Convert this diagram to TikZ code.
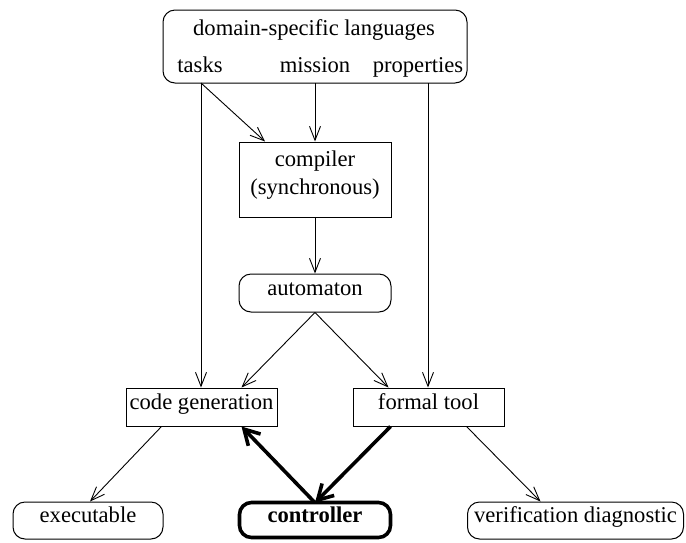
\documentclass[tikz,border=0pt]{standalone}
\usepackage{fontspec}
\setmainfont{Liberation Serif}
\usetikzlibrary{arrows.meta}
\tikzset{
  txt/.style={inner sep=0pt, text height=0.7em, text depth=0.22em},
  boxn/.style={draw, line width=1pt, inner sep=0pt},
  rbox/.style={boxn, rounded corners=12pt},
  edge/.style={line width=0.9pt, -{Straight Barb[length=14pt,width=11pt,line width=0.9pt]}},
  bedge/.style={line width=3.6pt, -{Straight Barb[length=15pt,width=17pt,line width=3.6pt]}},
}
\begin{document}
\begin{tikzpicture}[x=1pt,y=-1pt,font=\fontsize{22.6}{27}\selectfont]
\useasboundingbox (0,0) rectangle (686,542);
% top box
\node[rbox, minimum width=304pt, minimum height=73pt] (dsl) at (315,46.5) {};
\node[txt] (head) at (314,33) {domain-specific languages};
\node[txt] (tasks) at (200,70) {tasks};
\node[txt] (mission) at (315,70) {mission};
\node[txt] (props) at (418,70) {properties};
\coordinate (tasksout) at (201,83);
\coordinate (missout) at (315,83);
\coordinate (propsout) at (428,83);
% middle
\node[boxn, minimum width=152pt, minimum height=75pt] (comp) at (315,179.5) {};
\node[txt] (comp1) at (315,164) {compiler};
\node[txt] (comp2) at (315,192) {(synchronous)};
\node[rbox, minimum width=152pt, minimum height=38pt] (auto) at (315,293) {};
\node[txt] at (auto.center) {automaton};
% lower
\node[boxn, minimum width=151pt, minimum height=38pt] (cg) at (201.5,407) {};
\node[txt] at (cg.center) {code generation};
\node[boxn, minimum width=151pt, minimum height=38pt] (ft) at (428.5,407) {};
\node[txt] at (ft.center) {formal tool};
% bottom
\node[rbox, minimum width=150pt, minimum height=37pt] (exe) at (88,520.5) {};
\node[txt] at (exe.center) {executable};
\node[rbox, line width=3.6pt, minimum width=151pt, minimum height=35pt] (ctrl) at (315,520) {};
\node[txt] at (ctrl.center) {\bfseries controller};
\node[rbox, minimum width=216pt, minimum height=37pt] (verif) at (575.5,520.5) {};
\node[txt] at (verif.center) {verification diagnostic};
% connectors
\draw[edge] (tasksout) -- (cg.north -| tasksout);
\draw[edge] (tasksout) -- ([xshift=-50pt]comp.north);
\draw[edge] (missout) -- (comp.north);
\draw[edge] (propsout) -- (ft.north -| propsout);
\draw[edge] (comp.south) -- (auto.north);
\draw[edge] (auto.south) -- ([xshift=40pt]cg.north);
\draw[edge] (auto.south) -- ([xshift=-40pt]ft.north);
\draw[edge] ([xshift=-40pt]cg.south) -- ([xshift=2pt]exe.north);
\draw[edge] ([xshift=38pt]ft.south) -- ([xshift=-35pt]verif.north);
\draw[bedge] ([xshift=-38pt]ft.south) -- ([yshift=-2pt]ctrl.north);
\draw[bedge] ([yshift=-2pt]ctrl.north) -- ([xshift=40pt]cg.south);
\end{tikzpicture}
\end{document}
